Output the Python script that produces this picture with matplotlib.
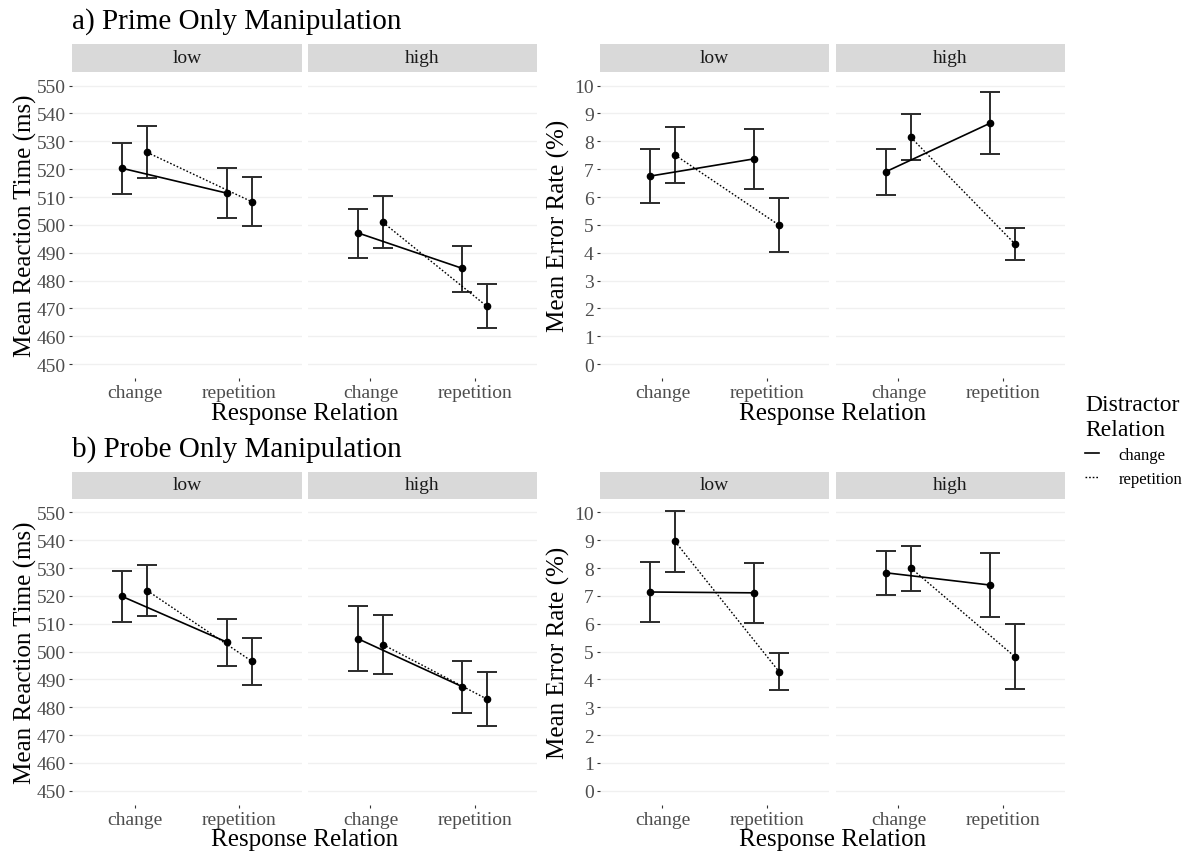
import matplotlib
matplotlib.use("Agg")
import numpy as np
import matplotlib.pyplot as plt
from matplotlib.lines import Line2D

plt.rcParams["font.family"] = ["Liberation Serif", "DejaVu Serif"]

# ---- data ----
load_levels = ["low", "high"]
response_levels = ["change", "repetition"]
distractor_levels = ["change", "repetition"]

# rows = distractor relation (change, repetition), cols = response relation
prime_rt_mean = {"low": [[520.3, 511.4], [526.0, 508.3]],
                 "high": [[497.1, 484.4], [500.9, 470.7]]}
prime_rt_lower = {"low": [[511.1, 502.3], [516.7, 499.5]],
                  "high": [[488.1, 476.0], [491.6, 462.8]]}
prime_rt_upper = {"low": [[529.4, 520.4], [535.4, 517.3]],
                  "high": [[505.7, 492.5], [510.2, 478.7]]}

prime_er_mean = {"low": [[6.75, 7.37], [7.51, 4.99]],
                 "high": [[6.91, 8.65], [8.14, 4.31]]}
prime_er_lower = {"low": [[5.77, 6.29], [6.50, 4.04]],
                  "high": [[6.08, 7.53], [7.34, 3.74]]}
prime_er_upper = {"low": [[7.74, 8.43], [8.53, 5.95]],
                  "high": [[7.74, 9.76], [8.98, 4.90]]}

probe_rt_mean = {"low": [[519.8, 503.4], [521.9, 496.5]],
                 "high": [[504.6, 487.4], [502.5, 482.9]]}
probe_rt_lower = {"low": [[510.6, 494.9], [512.6, 488.1]],
                  "high": [[493.1, 477.9], [491.9, 473.1]]}
probe_rt_upper = {"low": [[528.8, 511.7], [531.1, 504.7]],
                  "high": [[516.2, 496.7], [513.1, 492.8]]}

probe_er_mean = {"low": [[7.14, 7.11], [8.96, 4.28]],
                 "high": [[7.83, 7.39], [8.00, 4.81]]}
probe_er_lower = {"low": [[6.05, 6.03], [7.86, 3.62]],
                  "high": [[7.04, 6.25], [7.19, 3.66]]}
probe_er_upper = {"low": [[8.23, 8.17], [10.05, 4.93]],
                  "high": [[8.61, 8.53], [8.81, 5.99]]}

rt_ticks = list(range(450, 551, 10))
er_ticks = list(range(0, 11))

W, H = 1200, 854
TICK_GREY = "#4D4D4D"
GRID = "#F0F0F0"
STRIP = "#D9D9D9"
styles = {"change": "-", "repetition": (0, (1.2, 1.4))}
dodge = {"change": -0.12, "repetition": 0.12}


def box(x0, y0, x1, y1):
    """pixel box (top-left origin) -> figure rect"""
    return [x0 / W, 1 - y1 / H, (x1 - x0) / W, (y1 - y0) / H]


def draw_panel(ax, mean, lower, upper, ylim, ticks, show_y):
    x = np.arange(1, len(response_levels) + 1)
    for d, dist in enumerate(distractor_levels):
        xs = x + dodge[dist]
        m = np.array(mean[d])
        lo = np.array(lower[d])
        hi = np.array(upper[d])
        ax.errorbar(xs, m, yerr=[m - lo, hi - m], fmt="none", ecolor="#2B2B2B",
                    elinewidth=1.4, capsize=7.5, capthick=1.4, zorder=3)
        lw = 1.2 if dist == "change" else 1.0
        ax.plot(xs, m, linestyle=styles[dist], color="black", lw=lw, zorder=4)
        ax.plot(xs, m, "o", color="black", ms=4.5, zorder=5)
    ax.set_xlim(0.4, 2.6)
    ax.set_ylim(*ylim)
    ax.set_xticks(x)
    ax.set_xticklabels(response_levels)
    ax.set_yticks(ticks)
    ax.yaxis.grid(True, color=GRID, lw=1.0)
    ax.set_axisbelow(True)
    for s in ax.spines.values():
        s.set_visible(False)
    ax.tick_params(axis="both", length=2.5, width=0.8, color="#333333",
                   pad=2, labelsize=14, labelcolor=TICK_GREY)
    if show_y:
        ax.set_yticklabels([str(t) for t in ticks])
    else:
        ax.tick_params(axis="y", length=0, labelleft=False)


def draw_strip(rect, label):
    sax = fig.add_axes(rect)
    sax.set_facecolor(STRIP)
    sax.set_xticks([])
    sax.set_yticks([])
    for s in sax.spines.values():
        s.set_visible(False)
    sax.text(0.5, 0.5, label, ha="center", va="center", fontsize=14,
             color="#1A1A1A", transform=sax.transAxes)


fig = plt.figure(figsize=(W / 100, H / 100), dpi=100)
fig.patch.set_facecolor("white")

rows = [
    {"strip": (45, 72.7), "panel": (72.7, 379), "title": "a) Prime Only Manipulation",
     "title_y": 22, "xlab_y": 414,
     "rt": (prime_rt_mean, prime_rt_lower, prime_rt_upper),
     "er": (prime_er_mean, prime_er_lower, prime_er_upper)},
    {"strip": (472.5, 499.5), "panel": (499.5, 805.6), "title": "b) Probe Only Manipulation",
     "title_y": 450, "xlab_y": 840,
     "rt": (probe_rt_mean, probe_rt_lower, probe_rt_upper),
     "er": (probe_er_mean, probe_er_lower, probe_er_upper)},
]
pairs = [
    {"cols": [(72, 302), (308, 537)], "key": "rt", "ylim": (445, 555), "ticks": rt_ticks,
     "ylabel": "Mean Reaction Time (ms)", "ylabel_x": 25},
    {"cols": [(600, 829), (836, 1065)], "key": "er", "ylim": (-0.5, 10.5), "ticks": er_ticks,
     "ylabel": "Mean Error Rate (%)", "ylabel_x": 558},
]

for row in rows:
    s0, s1 = row["strip"]
    p0, p1 = row["panel"]
    fig.text(72 / W, 1 - row["title_y"] / H, row["title"], fontsize=21,
             ha="left", va="center", color="black")
    for pair in pairs:
        mean, lower, upper = row[pair["key"]]
        for i, load in enumerate(load_levels):
            x0, x1 = pair["cols"][i]
            ax = fig.add_axes(box(x0, p0, x1, p1))
            draw_panel(ax, mean[load], lower[load], upper[load],
                       pair["ylim"], pair["ticks"], show_y=(i == 0))
            draw_strip(box(x0, s0, x1, s1), load)
        cx = (pair["cols"][0][0] + pair["cols"][1][1]) / 2
        fig.text(cx / W, 1 - row["xlab_y"] / H, "Response Relation", fontsize=18,
                 ha="center", va="center")
        fig.text(pair["ylabel_x"] / W, 1 - ((p0 + p1) / 2) / H, pair["ylabel"],
                 fontsize=18, rotation=90, ha="center", va="center")

handles = [Line2D([], [], color="black", lw=1.2, linestyle=styles["change"]),
           Line2D([], [], color="black", lw=1.0, linestyle=styles["repetition"])]
leg = fig.legend(handles, distractor_levels, title="Distractor\nRelation",
                 loc="upper left", bbox_to_anchor=(1077 / W, 1 - 387 / H),
                 frameon=False, fontsize=12, title_fontsize=17, borderpad=0,
                 handlelength=0.8, handletextpad=1.2, labelspacing=0.45,
                 alignment="left")

fig.savefig("out.png", dpi=100, facecolor="white")
